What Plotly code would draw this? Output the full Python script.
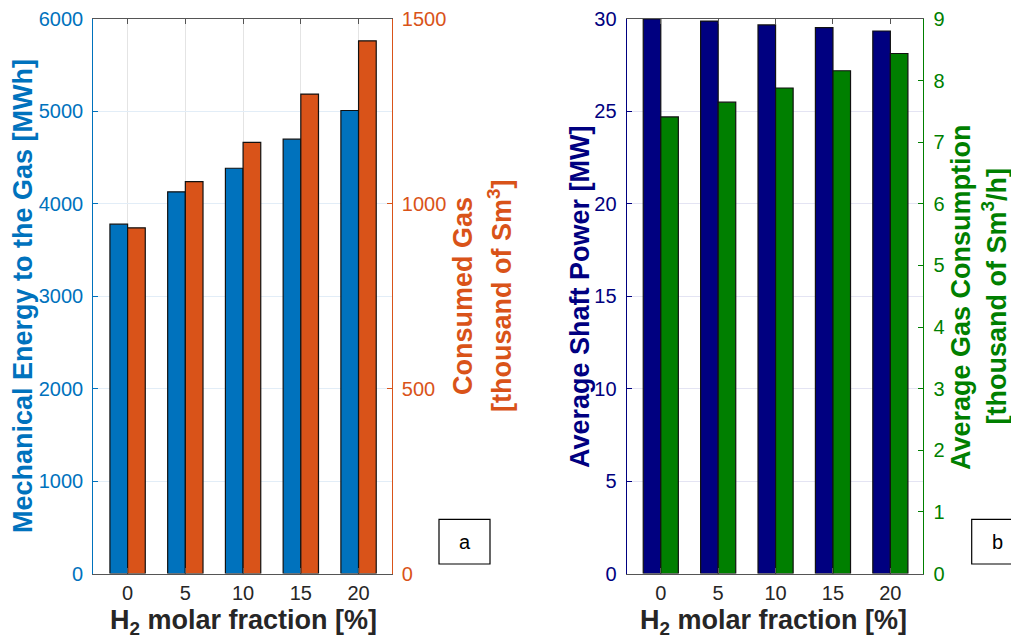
import plotly.graph_objects as go

# ---------------- data ----------------
h2_fraction = [0, 5, 10, 15, 20]
tick_labels = ["0", "5", "10", "15", "20"]

mech_energy_mwh = [3780, 4130, 4385, 4700, 5010]        # left axis, panel a
consumed_gas_k_sm3 = [935, 1060, 1166, 1297, 1441]      # right axis, panel a
avg_shaft_power_mw = [30.0, 29.89, 29.68, 29.53, 29.35]  # left axis, panel b
avg_gas_cons_k_sm3h = [7.41, 7.65, 7.88, 8.16, 8.44]    # right axis, panel b

# ---------------- style ----------------
W, H = 1011, 644
FONT = "Liberation Sans, Arial, Helvetica, sans-serif"
BLUE = "#0072BD"
ORANGE = "#D95319"
NAVY = "#000080"
GREEN = "#007F00"
DARK = "#262626"
BW = 1.53  # bar width in x units
TICK_SIZE = 20
TITLE_SIZE = 27

def px(x):
    return x / W

def py(y):
    return 1 - y / H

ydom = [py(573.5), py(19)]
xdom_a = [px(93.3), px(391.7)]
xdom_b = [px(626.7), px(923.3)]
xrange_ = [-2.97, 22.87]

fig = go.Figure()

def add_bar(x, y, color, xa, ya, offset):
    fig.add_trace(go.Bar(
        x=x, y=y, xaxis=xa, yaxis=ya,
        width=BW, offset=offset,
        marker=dict(color=color, line=dict(color="#111111", width=1.2)),
        showlegend=False,
    ))

add_bar(h2_fraction, mech_energy_mwh, BLUE, "x", "y", -BW)
add_bar(h2_fraction, consumed_gas_k_sm3, ORANGE, "x", "y2", 0)
add_bar(h2_fraction, avg_shaft_power_mw, NAVY, "x2", "y3", -BW)
add_bar(h2_fraction, avg_gas_cons_k_sm3h, GREEN, "x2", "y4", 0)

xcommon = dict(
    range=xrange_, tickmode="array", tickvals=h2_fraction, ticktext=tick_labels,
    showline=True, linecolor="#555555", linewidth=1.2, mirror="ticks",
    ticks="inside", ticklen=5, tickcolor="#555555", zeroline=False,
    tickfont=dict(family=FONT, size=TICK_SIZE, color=DARK), ticklabelstandoff=1,
    automargin=False,
)

def ycommon(color):
    return dict(showline=True, linecolor=color, linewidth=1.2,
                ticks="inside", ticklen=5, tickcolor=color, zeroline=False,
                tickfont=dict(family=FONT, size=TICK_SIZE, color=color),
                ticklabelstandoff=5, automargin=False)

fig.update_layout(
    width=W, height=H,
    margin=dict(l=0, r=0, t=0, b=0, autoexpand=False),
    paper_bgcolor="white", plot_bgcolor="white",
    barmode="overlay",
    font=dict(family=FONT),
    xaxis=dict(domain=xdom_a, anchor="y", showgrid=True, gridcolor="#e4e4e4",
               gridwidth=1, **xcommon),
    xaxis2=dict(domain=xdom_b, anchor="y3", showgrid=False, **xcommon),
    yaxis=dict(domain=ydom, anchor="x", range=[0, 6000], dtick=1000,
               showgrid=True, gridcolor="#e2edf7", **ycommon(BLUE)),
    yaxis2=dict(domain=ydom, anchor="x", overlaying="y", side="right",
                range=[0, 1500], dtick=500, showgrid=False, **ycommon(ORANGE)),
    yaxis3=dict(domain=ydom, anchor="x2", range=[0, 30], dtick=5,
                showgrid=True, gridcolor="#e4e4f3", **ycommon(NAVY)),
    yaxis4=dict(domain=ydom, anchor="x2", overlaying="y3", side="right",
                range=[0, 9], dtick=1, showgrid=False, **ycommon(GREEN)),
)

def title_font(c):
    return dict(family=FONT, size=TITLE_SIZE, color=c, weight="bold")

annots = [
    # y-axis titles
    dict(x=px(23), y=py(296), text="Mechanical Energy to the Gas [MWh]",
         textangle=-90, font=title_font(BLUE)),
    dict(x=px(463), y=py(296), text="Consumed Gas",
         textangle=-90, font=title_font(ORANGE)),
    dict(x=px(500), y=py(296), text="[thousand of Sm<sup>3</sup>]",
         textangle=-90, font=title_font(ORANGE)),
    dict(x=px(580), y=py(297), text="Average Shaft Power [MW]",
         textangle=-90, font=title_font(NAVY)),
    dict(x=px(961), y=py(297), text="Average Gas Consumption",
         textangle=-90, font=title_font(GREEN)),
    dict(x=px(994), y=py(296.5), text="[thousand of Sm<sup>3</sup>/h]",
         textangle=-90, font=title_font(GREEN)),
    # x-axis titles
    dict(x=px(243), y=py(622), text="H<sub>2</sub> molar fraction [%]",
         font=title_font(DARK)),
    dict(x=px(773), y=py(622), text="H<sub>2</sub> molar fraction [%]",
         font=title_font(DARK)),
    # panel labels
    dict(x=px(464.5), y=py(541.5), text="a", font=dict(family=FONT, size=20, color="black")),
    dict(x=px(997), y=py(541.5), text="b", font=dict(family=FONT, size=20, color="black")),
]
for a in annots:
    a.update(xref="paper", yref="paper", showarrow=False, xanchor="center", yanchor="middle")
    fig.add_annotation(**a)

# boxes around the panel labels
for x0, x1 in [(439, 490), (971.7, 1022)]:
    fig.add_shape(type="rect", xref="paper", yref="paper",
                  x0=px(x0), x1=px(x1), y0=py(564), y1=py(519.3),
                  line=dict(color="black", width=1.2), fillcolor="rgba(0,0,0,0)")

fig.write_html("out.html",
               config={"displayModeBar": False},
               post_script="document.body.style.margin='0';document.body.style.overflow='hidden';")
